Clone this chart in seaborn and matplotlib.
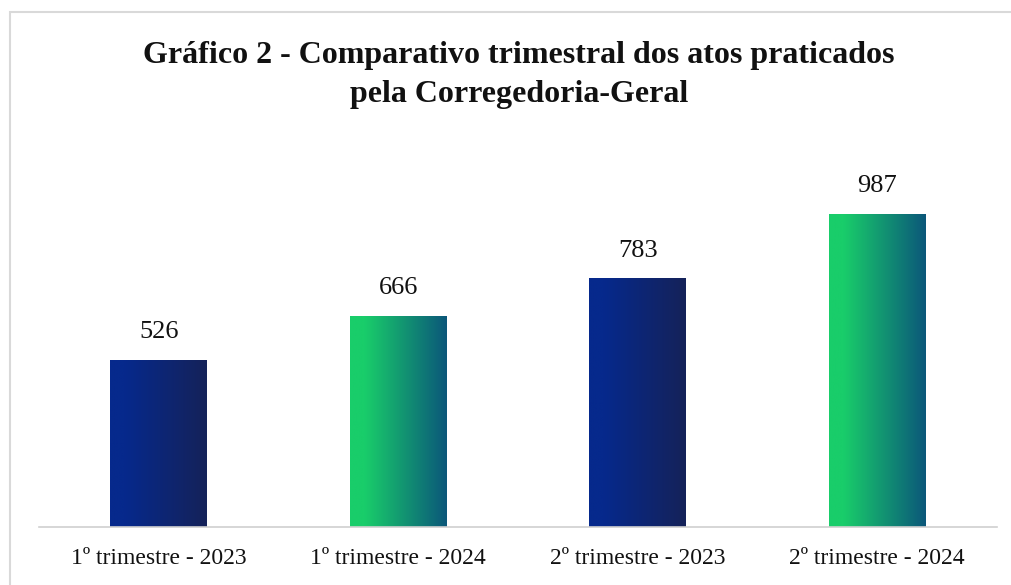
import numpy as np
import pandas as pd
import matplotlib
matplotlib.use('Agg')
import matplotlib.pyplot as plt
import matplotlib.colors as mcolors
from matplotlib.patches import Rectangle
import seaborn as sns

categories = ['1º trimestre - 2023', '1º trimestre - 2024', '2º trimestre - 2023', '2º trimestre - 2024']
values = [526, 666, 783, 987]
gradients = [('#06298c', '#152259'), ('#19cd6a', '#0b577a'),
             ('#06298c', '#152259'), ('#19cd6a', '#0b577a')]

sns.set_theme(style='white')
plt.rcParams['font.family'] = ['Liberation Serif', 'DejaVu Serif']

df = pd.DataFrame({'cat': categories, 'val': values})

fig = plt.figure(figsize=(10.11, 5.85), dpi=100)
ax = fig.add_axes([39 / 1011, 1 - 527 / 585, 958 / 1011, 381 / 585])
sns.barplot(data=df, x='cat', y='val', ax=ax, width=0.405, color='white')

# gradient fill for each bar
for patch, (c1, c2) in zip(ax.patches, gradients):
    x0, y0 = patch.get_x(), patch.get_y()
    w, h = patch.get_width(), patch.get_height()
    cmap = mcolors.LinearSegmentedColormap.from_list('g', [(0, c1), (0.15, c1), (1, c2)])
    grad = np.linspace(0, 1, 256).reshape(1, -1)
    im = ax.imshow(grad, extent=[x0, x0 + w, y0, y0 + h], aspect='auto',
                   cmap=cmap, zorder=2)
    im.set_clip_path(patch)
    patch.set_edgecolor('none')
    ax.annotate(str(int(h)), (x0 + w / 2, h), xytext=(0, 12), textcoords='offset points',
                ha='center', va='bottom', fontsize=19, color='#111111')

ax.set_xlim(-0.5, 3.5)
ax.set_ylim(0, 1200)
ax.set_xlabel('')
ax.set_ylabel('')
ax.set_yticks([])
for s in ['top', 'right', 'left']:
    ax.spines[s].set_visible(False)
ax.spines['bottom'].set_color('#d0d0d0')
ax.spines['bottom'].set_linewidth(1.2)
ax.tick_params(axis='x', length=0, labelsize=17, pad=15, colors='#111111')

fig.text(0.513, 1 - 75 / 585, 'Gráfico 2 - Comparativo trimestral dos atos praticados\npela Corregedoria-Geral',
         ha='center', va='center', fontsize=23, fontweight='bold', color='#111111', linespacing=1.42)

# outer frame
fig.patches.append(Rectangle((10 / 1011, -0.05), 1.1, 1 - 12 / 585 + 0.05, transform=fig.transFigure,
                             fill=False, edgecolor='#d9d9d9', linewidth=1.5))

plt.savefig('out.png', dpi=100)
plt.close()
